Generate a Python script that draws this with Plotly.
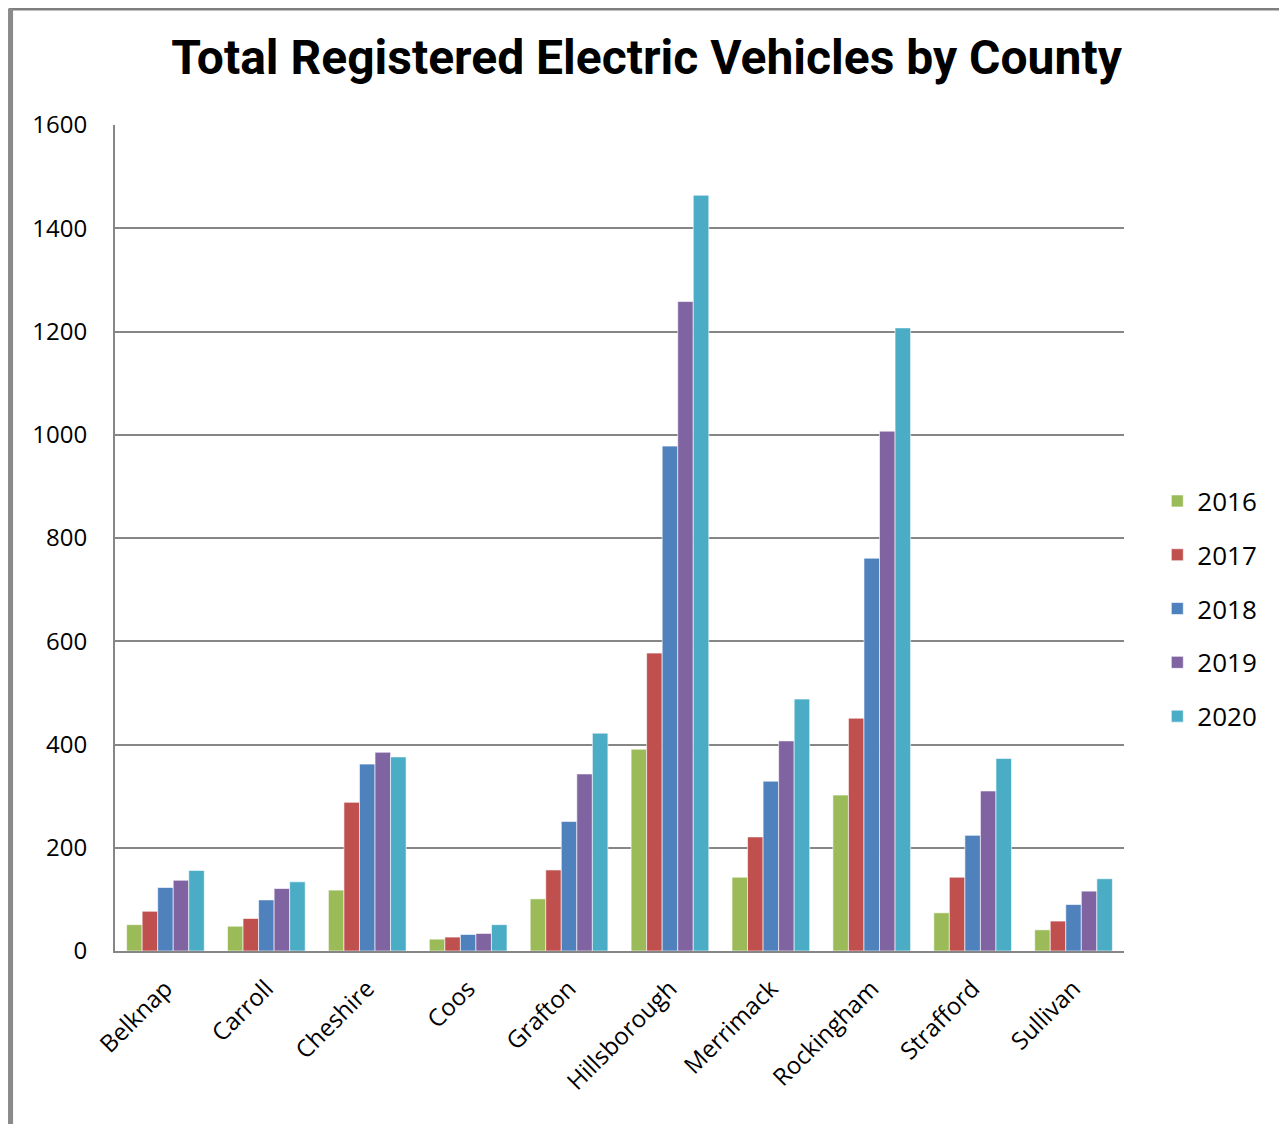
import plotly.graph_objects as go

counties = ["Belknap", "Carroll", "Cheshire", "Coos", "Grafton", "Hillsborough",
            "Merrimack", "Rockingham", "Strafford", "Sullivan"]
years = ["2016", "2017", "2018", "2019", "2020"]
v2016 = [51, 48, 118, 23, 101, 391, 143, 302, 74, 41]
v2017 = [77, 63, 288, 27, 157, 577, 221, 451, 143, 58]
v2018 = [123, 99, 362, 32, 251, 978, 329, 761, 224, 90]
v2019 = [137, 121, 385, 34, 343, 1258, 407, 1007, 310, 116]
v2020 = [156, 134, 376, 51, 422, 1464, 488, 1207, 373, 140]
series = [v2016, v2017, v2018, v2019, v2020]
colors = ["#9BBB59", "#C0504D", "#4F81BD", "#8064A2", "#4BACC6"]
y_ticks = [0, 200, 400, 600, 800, 1000, 1200, 1400, 1600]

fig = go.Figure()
for yr, vals, c in zip(years, series, colors):
    fig.add_trace(go.Bar(name=yr, x=counties, y=vals, marker_color=c,
                         legendgroup=yr,
                         marker_line=dict(color="rgba(255,255,255,0.6)", width=1)))

fig.update_layout(
    width=1279, height=1116,
    margin=dict(l=107, r=163, t=117, b=173),
    paper_bgcolor="white", plot_bgcolor="white",
    barmode="group", bargap=0.23, bargroupgap=0,
    font=dict(family="Open Sans", color="#000000"),
    title=dict(text="<b>Total Registered Electric Vehicles by County</b>",
               x=0.4992, xanchor="center", y=0.956, yanchor="middle",
               font=dict(size=48, family="Roboto", color="#000000")),
    legend=dict(x=1.033, xanchor="left", y=0.4146, yanchor="middle",
                font=dict(size=26), tracegroupgap=17, itemwidth=30,
                traceorder="grouped"),
    showlegend=True,
)
fig.update_xaxes(showline=True, linecolor="#868686", linewidth=2,
                 tickangle=-45, tickfont=dict(size=24), ticks="",
                 showgrid=False, ticklabelstandoff=12)
fig.update_yaxes(range=[0, 1600], tickvals=y_ticks, showgrid=True,
                 gridcolor="#868686", gridwidth=2, showline=True,
                 linecolor="#868686", linewidth=2, zeroline=False,
                 tickfont=dict(size=24), ticks="", ticklabelstandoff=21)
fig.add_shape(type="rect", xref="paper", yref="paper",
              x0=-0.104, x1=1.1596, y0=-0.3, y1=1.1404,
              line=dict(color="#7F7F7F", width=3), fillcolor="rgba(0,0,0,0)")
fig.add_shape(type="line", xref="paper", yref="paper",
              x0=-0.1035, x1=-0.1035, y0=-0.3, y1=1.1404,
              line=dict(color="#8A8A8A", width=5))

fig.write_html("out.html")
